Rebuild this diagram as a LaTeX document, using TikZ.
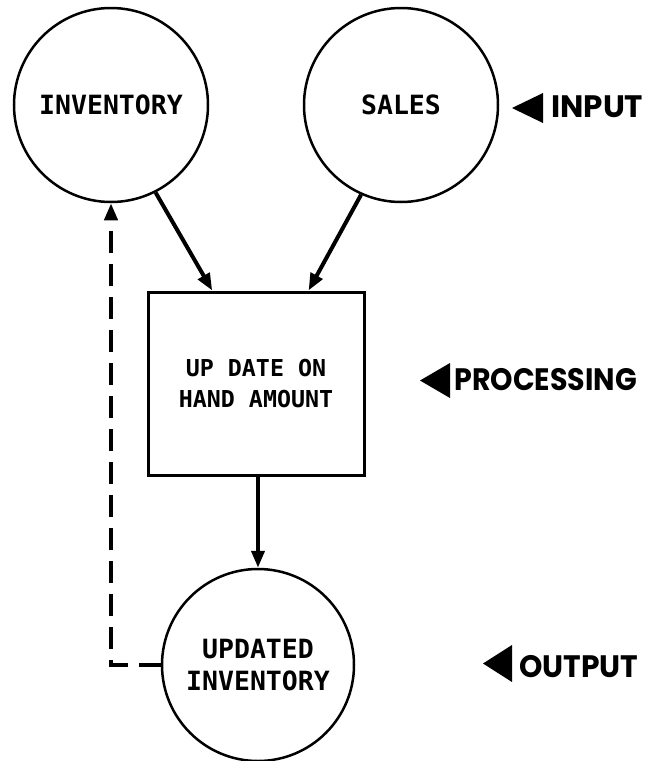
\documentclass[tikz,border=0pt]{standalone}
\usepackage{fontspec}
\usetikzlibrary{arrows.meta,calc}
\newfontfamily\monob{DejaVu Sans Mono}
\newfontfamily\labfont{Poppins}
\newcommand\circfont{\monob\bfseries\fontsize{26.5}{32}\selectfont}
\newcommand\boxtextfont{\monob\bfseries\fontsize{23.3}{31}\selectfont}
\newcommand\sidefont{\labfont\bfseries\fontsize{31}{36}\selectfont}
\begin{document}
\begin{tikzpicture}[x=1pt,y=-1pt,
  circ/.style={draw, circle, line width=2.5pt, minimum size=194pt, inner sep=0pt, font=\circfont, align=center},
  procbox/.style={draw, rectangle, line width=3pt, minimum width=216pt, minimum height=183pt, inner sep=0pt, font=\boxtextfont, align=center},
  flow/.style={line width=4pt, -{Triangle[length=17pt,width=13pt]}},
  feedback/.style={line width=4pt, dash pattern=on 22pt off 11pt, -{Triangle[length=17pt,width=13pt]}},
  sidelab/.style={inner sep=0pt, font=\sidefont, anchor=base west},
  marker/.style={fill=black}
]
\useasboundingbox (0,0) rectangle (646,761);
\fill[white] (0,0) rectangle (646,761);

\node[circ] (inv) at (111,105) {INVENTORY};
\node[circ] (sales) at (401,105) {SALES};
\node[procbox] (proc) at (256,383.5) {UP DATE ON\\HAND AMOUNT};
\node[circ, minimum size=192pt] (upd) at (258,665) {UPDATED\\INVENTORY};

\draw[flow] (inv.-63.7) -- ($(proc.north west)!0.3!(proc.north east)$);
\draw[flow] (sales.-114) -- ($(proc.north west)!0.74!(proc.north east)$);
\draw[flow] (proc.south -| upd.north) -- (upd.north);
\draw[feedback] (upd.west) -| (inv.south);

% side labels
\fill[marker] (543,93) -- (512,108) -- (543,123) -- cycle;
\node[sidelab] (input) at (551,117) {INPUT};
\fill[marker] (450,363) -- (420,380.5) -- (450,398) -- cycle;
\node[sidelab] (processing) at (454,390) {\scalebox{0.92}[1]{PROCESSING}};
\fill[marker] (512,645) -- (483,663.5) -- (512,682) -- cycle;
\node[sidelab] (output) at (519,677) {\scalebox{0.96}[1]{OUTPUT}};
\end{tikzpicture}
\end{document}
